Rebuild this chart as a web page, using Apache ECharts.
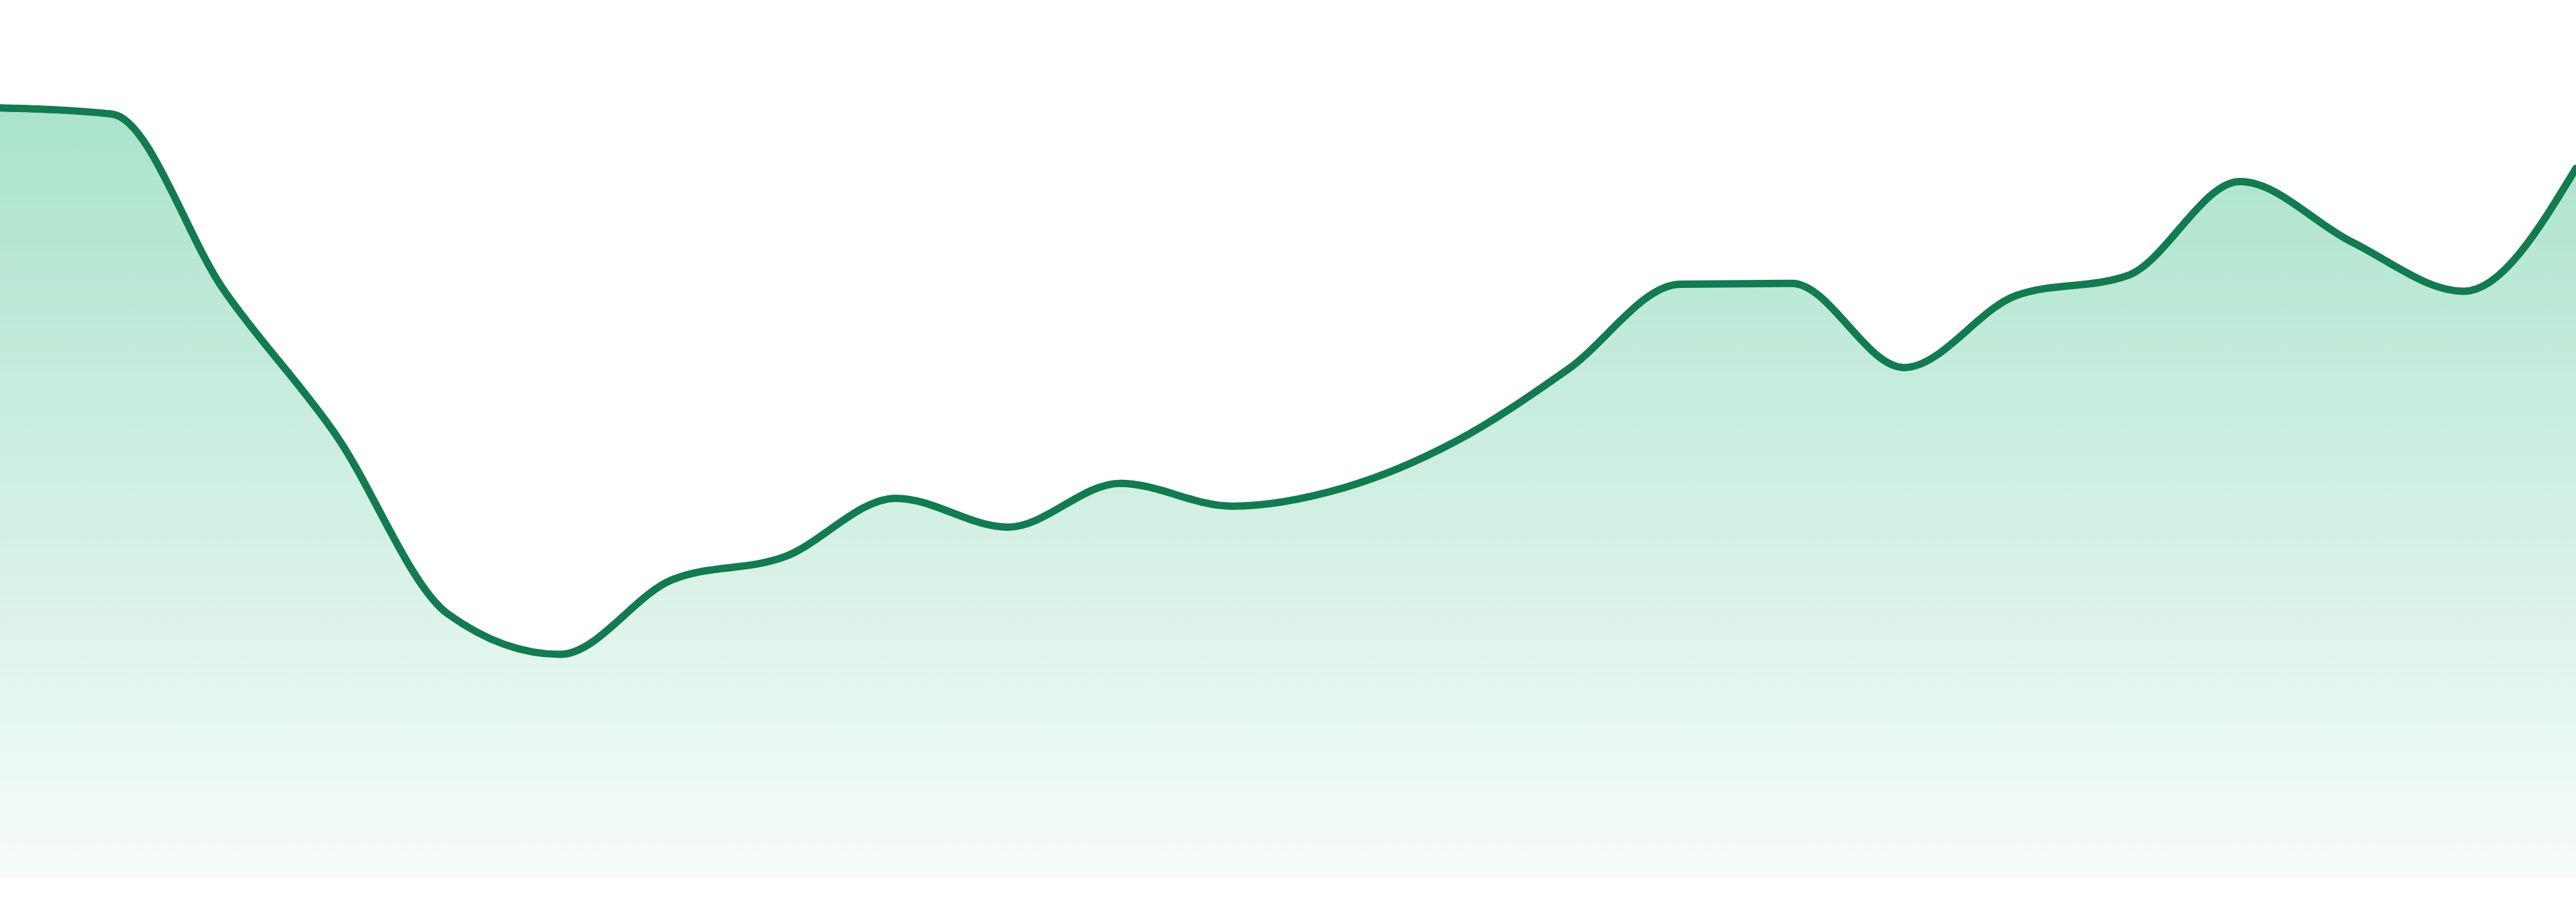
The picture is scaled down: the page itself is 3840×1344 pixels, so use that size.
<!DOCTYPE html>
<html lang="en">
<head>
    <meta charset="UTF-8">
    <title>Area</title>
    <script src="https://cdn.jsdelivr.net/npm/echarts@6/dist/echarts.min.js"></script>
    <style>
        html, body { margin: 0; padding: 0; background: #fff; }
    </style>
</head>
<body>
    <div id="main" style="width: 3840px;height: 1344px"></div>
    <script type="text/javascript">
        var days = [];
        for (var i = 1; i <= 24; i++) {
            days.push('D' + i);
        }
        var values = [87.7, 87.0, 66.9, 50.4, 30.0, 25.4, 33.9, 36.5, 43.2, 39.9, 44.9, 42.3,
                      44.4, 49.7, 57.9, 67.6, 67.7, 58.1, 66.3, 68.6, 79.3, 72.4, 66.8, 80.8];

        var lineColor = '#127b50';

        // monotone cubic (same idea as d3 curveMonotoneX) through the pixel points
        function sign(v) { return v < 0 ? -1 : 1; }
        function monotonePath(pts) {
            var n = pts.length;
            var t = [];
            for (var i = 0; i < n; i++) {
                if (i === 0 || i === n - 1) { t.push(null); continue; }
                var h0 = pts[i][0] - pts[i - 1][0];
                var h1 = pts[i + 1][0] - pts[i][0];
                var s0 = (pts[i][1] - pts[i - 1][1]) / h0;
                var s1 = (pts[i + 1][1] - pts[i][1]) / h1;
                var p = (s0 * h1 + s1 * h0) / (h0 + h1);
                t.push((sign(s0) + sign(s1)) * Math.min(Math.abs(s0), Math.abs(s1), 0.5 * Math.abs(p)) || 0);
            }
            var hA = pts[1][0] - pts[0][0];
            t[0] = (3 * (pts[1][1] - pts[0][1]) / hA - t[1]) / 2;
            var hB = pts[n - 1][0] - pts[n - 2][0];
            t[n - 1] = (3 * (pts[n - 1][1] - pts[n - 2][1]) / hB - t[n - 2]) / 2;

            var d = 'M' + pts[0][0] + ' ' + pts[0][1];
            for (var j = 0; j < n - 1; j++) {
                var dx = (pts[j + 1][0] - pts[j][0]) / 3;
                d += ' C' + (pts[j][0] + dx) + ' ' + (pts[j][1] + dx * t[j]) + ' '
                    + (pts[j + 1][0] - dx) + ' ' + (pts[j + 1][1] - dx * t[j + 1]) + ' '
                    + pts[j + 1][0] + ' ' + pts[j + 1][1];
            }
            return d;
        }

        function renderItem(params, api) {
            if (params.dataIndex !== 0) {
                return null;
            }
            var pts = [];
            for (var i = 0; i < values.length; i++) {
                pts.push(api.coord([i, values[i]]));
            }
            var base = api.coord([0, 0])[1];
            var line = monotonePath(pts);
            var area = line + ' L' + pts[pts.length - 1][0] + ' ' + base + ' L' + pts[0][0] + ' ' + base + ' Z';
            return {
                type: 'group',
                children: [
                    {
                        type: 'path',
                        shape: { pathData: area },
                        style: {
                            fill: new echarts.graphic.LinearGradient(0, 0, 0, 1, [
                                { offset: 0, color: 'rgba(19,176,113,0.36)' },
                                { offset: 1, color: 'rgba(19,176,113,0.035)' }
                            ]),
                            stroke: null
                        }
                    },
                    {
                        type: 'path',
                        shape: { pathData: line },
                        style: {
                            fill: null,
                            stroke: lineColor,
                            lineWidth: 11,
                            lineJoin: 'round',
                            lineCap: 'round'
                        }
                    }
                ]
            };
        }

        var option = {
            animation: false,
            grid: {
                left: 0,
                right: 0,
                top: 0,
                bottom: 37
            },
            xAxis: {
                type: 'category',
                boundaryGap: false,
                data: days,
                show: false
            },
            yAxis: {
                type: 'value',
                min: 0,
                max: 100,
                show: false,
                splitLine: { show: false }
            },
            series: [
                {
                    type: 'custom',
                    renderItem: renderItem,
                    clip: false,
                    data: values.map(function (v, i) { return [i, v]; })
                }
            ]
        };

        var myChart = echarts.init(document.getElementById('main'));
        myChart.setOption(option);
    </script>
</body>
</html>
